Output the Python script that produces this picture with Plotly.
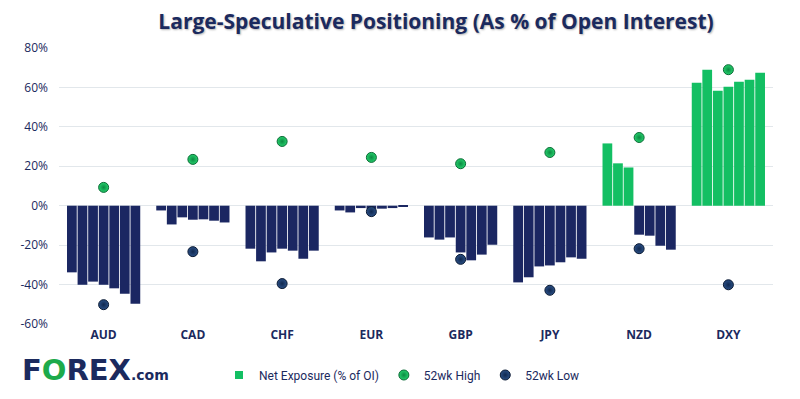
import plotly.graph_objects as go

categories = ["AUD", "CAD", "CHF", "EUR", "GBP", "JPY", "NZD", "DXY"]

# Net exposure (% of OI), seven weekly readings per currency (oldest -> latest)
week1 = [-33.8, -2.4, -21.8, -2.4, -16.1, -38.9, 31.6, 62.4]
week2 = [-40.1, -9.5, -28.2, -3.4, -17.2, -36.3, 21.5, 69.0]
week3 = [-38.5, -5.9, -23.7, -1.2, -16.1, -30.8, 19.4, 58.3]
week4 = [-40.1, -7.1, -21.8, -1.6, -23.7, -30.3, -14.7, 60.3]
week5 = [-41.9, -6.9, -22.8, -1.5, -27.7, -28.7, -15.2, 62.9]
week6 = [-44.6, -7.6, -26.9, -1.2, -24.8, -26.2, -20.3, 63.9]
week7 = [-49.7, -8.5, -22.8, -0.6, -19.8, -26.9, -22.3, 67.4]

high_52wk = [9.3, 23.5, 32.6, 24.5, 21.3, 27.0, 34.6, 69.0]
low_52wk = [-50.2, -23.3, -39.5, -3.0, -27.2, -42.9, -21.8, -40.1]

y_ticks = [-60, -40, -20, 0, 20, 40, 60, 80]
y_tick_labels = ["-60%", "-40%", "-20%", "0%", "20%", "40%", "60%", "80%"]

NAVY = "#1b2762"
GREEN = "#13bf63"
TEXT = "#1b2a5e"

fig = go.Figure()

# legend-only entry for the bars
fig.add_trace(go.Scatter(
    x=[None], y=[None], mode="markers", name="Net Exposure (% of OI)",
    marker=dict(symbol="square", size=8, color=GREEN),
))

for wk in [week1, week2, week3, week4, week5, week6, week7]:
    fig.add_trace(go.Bar(
        x=categories, y=wk, showlegend=False,
        marker=dict(color=[GREEN if v >= 0 else NAVY for v in wk], line=dict(width=0)),
        hoverinfo="x+y",
    ))

fig.add_trace(go.Scatter(
    x=categories, y=high_52wk, mode="markers", name="52wk High",
    marker=dict(size=10, color="#25d06d", line=dict(color="#0a6a35", width=1),
                gradient=dict(type="radial", color="#0b8a42")),
))
fig.add_trace(go.Scatter(
    x=categories, y=low_52wk, mode="markers", name="52wk Low",
    marker=dict(size=10, color="#2a4f85", line=dict(color="#0b1a33", width=1),
                gradient=dict(type="radial", color="#10284f")),
))

fig.update_layout(
    width=800, height=399,
    margin=dict(l=59, r=27, t=48, b=75),
    paper_bgcolor="white", plot_bgcolor="white",
    barmode="group", bargap=0.17, bargroupgap=0.08,
    title=dict(
        text="<b>Large-Speculative Positioning (As % of Open Interest)</b>",
        font=dict(family="Open Sans", size=21, color=TEXT,
                  shadow="1px 1px 2px rgba(0,0,0,0.3)"),
        xref="container", x=436 / 800, xanchor="center",
        yref="container", y=1 - 22 / 399, yanchor="middle",
    ),
    xaxis=dict(
        type="category", showgrid=False, zeroline=False, showline=False,
        tickfont=dict(family="Open Sans", size=12, color=TEXT, weight="bold"),
        ticks="", ticklabelstandoff=2,
    ),
    yaxis=dict(
        range=[-60, 80], tickvals=y_ticks, ticktext=y_tick_labels,
        showgrid=True, gridcolor="#e2e7eb", gridwidth=1,
        zeroline=True, zerolinecolor="#e2e7eb", zerolinewidth=1,
        showline=False, ticks="", ticklabelstandoff=10,
        tickfont=dict(family="Open Sans", size=12, color=TEXT),
    ),
    legend=dict(
        orientation="h", xref="container", yref="container",
        x=402 / 800, xanchor="center", y=1 - 375 / 399, yanchor="middle",
        font=dict(family="Roboto", size=12, color=TEXT),
        itemwidth=30, tracegroupgap=0, bgcolor="rgba(0,0,0,0)",
    ),
    showlegend=True,
)

fig.add_annotation(
    xref="paper", yref="paper", x=(20 - 59) / 714, y=(324 - 370) / 276,
    xanchor="left", yanchor="middle", showarrow=False,
    text=("<b><span style='color:#1b2a5e'>F</span>"
          "<span style='color:#1daa4b'>O</span>"
          "<span style='color:#1b2a5e'>REX</span>"
          "<span style='color:#1b2a5e;font-size:14px'>.com</span></b>"),
    font=dict(family="DejaVu Sans", size=29, color=TEXT),
)

fig.write_html("out.html", config={"displayModeBar": False},
               post_script="document.body.style.margin='0';")
